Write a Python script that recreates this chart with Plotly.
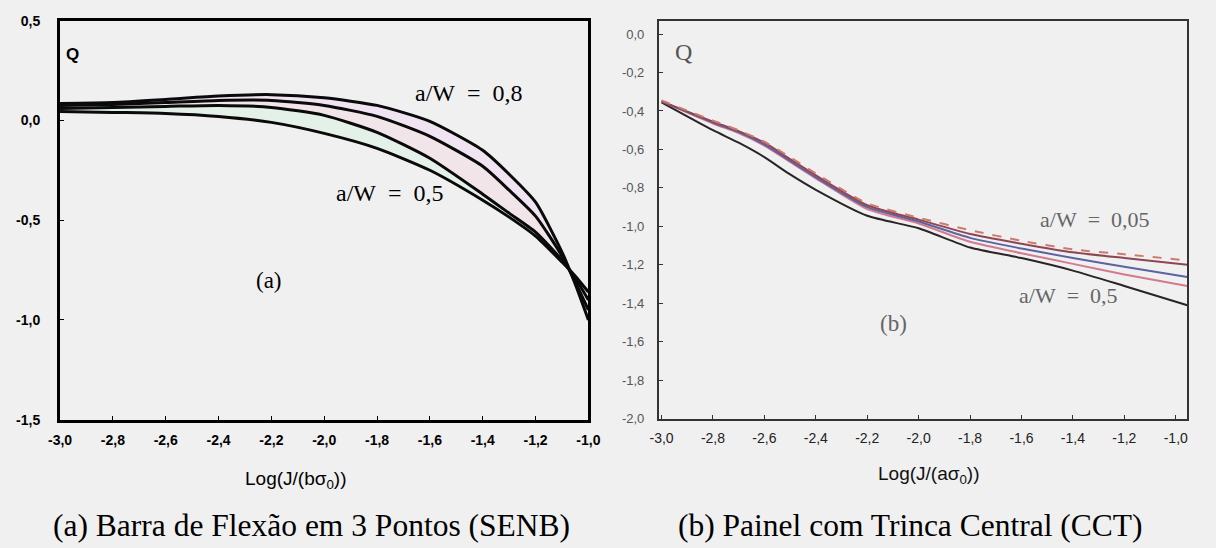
import plotly.graph_objects as go

W, H = 1216, 548

# ---------------- data: panel (a) SENB ----------------
x_a = [-3.0, -2.8, -2.6, -2.4, -2.2, -2.0, -1.8, -1.6, -1.4, -1.3, -1.2, -1.1, -1.05, -1.0]
q_a_08 = [0.085, 0.09, 0.105, 0.122, 0.129, 0.113, 0.075, -0.005, -0.15, -0.27, -0.41, -0.66, -0.82, -1.0]
q_a_07 = [0.075, 0.08, 0.09, 0.10, 0.10, 0.075, 0.02, -0.08, -0.23, -0.35, -0.48, -0.68, -0.81, -0.95]
q_a_06 = [0.06, 0.065, 0.07, 0.075, 0.065, 0.025, -0.06, -0.19, -0.37, -0.465, -0.56, -0.70, -0.79, -0.90]
q_a_05 = [0.045, 0.04, 0.035, 0.02, -0.01, -0.065, -0.14, -0.25, -0.40, -0.485, -0.58, -0.71, -0.78, -0.86]

# ---------------- data: panel (b) CCT ----------------
x_b = [-3.0, -2.8, -2.7, -2.6, -2.5, -2.4, -2.2, -2.0, -1.8, -1.6, -1.4, -1.2, -0.955]
q_b_005 = [-0.345, -0.45, -0.50, -0.56, -0.64, -0.725, -0.88, -0.955, -1.02, -1.075, -1.12, -1.145, -1.177]
q_b_01 = [-0.35, -0.455, -0.505, -0.565, -0.65, -0.735, -0.89, -0.965, -1.04, -1.09, -1.135, -1.165, -1.20]
q_b_02 = [-0.35, -0.46, -0.51, -0.575, -0.66, -0.745, -0.90, -0.975, -1.06, -1.115, -1.165, -1.21, -1.263]
q_b_03 = [-0.35, -0.465, -0.515, -0.58, -0.665, -0.75, -0.91, -0.985, -1.08, -1.14, -1.195, -1.25, -1.31]
q_b_05 = [-0.355, -0.50, -0.565, -0.64, -0.73, -0.81, -0.945, -1.01, -1.11, -1.165, -1.23, -1.31, -1.41]

# ---------------- tick labels ----------------
xa_vals = [-3.0, -2.8, -2.6, -2.4, -2.2, -2.0, -1.8, -1.6, -1.4, -1.2, -1.0]
xa_text = ["-3,0", "-2,8", "-2,6", "-2,4", "-2,2", "-2,0", "-1,8", "-1,6", "-1,4", "-1,2", "-1,0"]
ya_vals = [0.5, 0.0, -0.5, -1.0, -1.5]
ya_text = ["0,5", "0,0", "-0,5", "-1,0", "-1,5"]
xb_vals = xa_vals
xb_text = xa_text
yb_vals = [0.0, -0.2, -0.4, -0.6, -0.8, -1.0, -1.2, -1.4, -1.6, -1.8, -2.0]
yb_text = ["0,0", "-0,2", "-0,4", "-0,6", "-0,8", "-1,0", "-1,2", "-1,4", "-1,6", "-1,8", "-2,0"]

BG = "#f0f0f0"


def px(x):
    return x / W


def py(y):
    return 1 - y / H


fig = go.Figure()

# faint coloured bands between curves of panel (a)
spl = dict(shape="spline", smoothing=0.6)
fig.add_trace(go.Scatter(x=x_a, y=q_a_05, mode="lines", line=dict(color="rgba(0,0,0,0)", width=0, **spl),
                         showlegend=False, hoverinfo="skip", xaxis="x", yaxis="y"))
fig.add_trace(go.Scatter(x=x_a, y=q_a_06, mode="lines", line=dict(color="rgba(0,0,0,0)", width=0, **spl),
                         fill="tonexty", fillcolor="rgba(200,245,215,0.3)",
                         showlegend=False, hoverinfo="skip", xaxis="x", yaxis="y"))
fig.add_trace(go.Scatter(x=x_a, y=q_a_07, mode="lines", line=dict(color="rgba(0,0,0,0)", width=0, **spl),
                         fill="tonexty", fillcolor="rgba(250,205,220,0.3)",
                         showlegend=False, hoverinfo="skip", xaxis="x", yaxis="y"))
fig.add_trace(go.Scatter(x=x_a, y=q_a_08, mode="lines", line=dict(color="rgba(0,0,0,0)", width=0, **spl),
                         fill="tonexty", fillcolor="rgba(240,205,245,0.35)",
                         showlegend=False, hoverinfo="skip", xaxis="x", yaxis="y"))

for name, ys in [("a/W = 0,8", q_a_08), ("a/W = 0,7", q_a_07), ("a/W = 0,6", q_a_06), ("a/W = 0,5", q_a_05)]:
    fig.add_trace(go.Scatter(x=x_a, y=ys, mode="lines", name=name,
                             line=dict(color="#0a0a0a", width=3, **spl),
                             showlegend=False, xaxis="x", yaxis="y"))

# panel (b) curves
b_series = [
    ("a/W = 0,5", q_b_05, "#2a2426", "solid"),
    ("a/W = 0,3", q_b_03, "#d27a8e", "solid"),
    ("a/W = 0,2", q_b_02, "#5b63a2", "solid"),
    ("a/W = 0,1", q_b_01, "#8e4652", "solid"),
    ("a/W = 0,05", q_b_005, "#cc7a70", "dash"),
]
for name, ys, col, dash in b_series:
    fig.add_trace(go.Scatter(x=x_b, y=ys, mode="lines", name=name,
                             line=dict(color=col, width=2, dash=dash, **spl),
                             showlegend=False, xaxis="x2", yaxis="y2"))

axis_common = dict(showgrid=False, zeroline=False, showline=True, mirror=True,
                   ticks="inside", ticklen=4, tickmode="array")

fig.update_layout(
    width=W, height=H,
    margin=dict(l=0, r=0, t=0, b=0),
    paper_bgcolor=BG, plot_bgcolor=BG,
    showlegend=False,
    xaxis=dict(domain=[px(49), px(588)], anchor="y", range=[-3.0, -1.0],
               tickvals=xa_vals, ticktext=xa_text, linecolor="#000", linewidth=3,
               tickcolor="#000", ticklabelstandoff=6,
               tickfont=dict(family="Liberation Sans, Arial", size=14, color="#000", weight="bold"),
               **axis_common),
    yaxis=dict(domain=[py(424), py(13)], anchor="x", range=[-1.5, 0.5],
               tickvals=ya_vals, ticktext=ya_text, linecolor="#000", linewidth=3,
               tickcolor="#000", ticklabelstandoff=14,
               tickfont=dict(family="Liberation Sans, Arial", size=14, color="#000", weight="bold"),
               **axis_common),
    xaxis2=dict(domain=[px(660), px(1199)], anchor="y2", range=[-3.01, -0.955],
                tickvals=xb_vals, ticktext=xb_text, linecolor="#333", linewidth=2,
                tickcolor="#333", ticklabelstandoff=6,
                tickfont=dict(family="Liberation Sans, Arial", size=14, color="#222"),
                **axis_common),
    yaxis2=dict(domain=[py(423), py(13)], anchor="x2", range=[-2.0, 0.07],
                tickvals=yb_vals, ticktext=yb_text, linecolor="#333", linewidth=2,
                tickcolor="#333", ticklabelstandoff=10,
                tickfont=dict(family="Liberation Sans, Arial", size=13, color="#555"),
                **axis_common),
)

serif = "Liberation Serif, Times New Roman, serif"
sans = "Liberation Sans, Arial, sans-serif"
NB = "\u00a0"
EQ = NB + NB + "=" + NB + NB

annots = [
    # panel (a)
    dict(text="Q", x=px(62), y=py(48), font=dict(family=sans, size=17, color="#000", weight="bold")),
    dict(text="a/W" + EQ + "0,8", x=px(466), y=py(88),
         font=dict(family=serif, size=24, color="#000")),
    dict(text="a/W" + EQ + "0,5", x=px(386), y=py(191),
         font=dict(family=serif, size=24, color="#000")),
    dict(text="(a)", x=px(262), y=py(281), font=dict(family=serif, size=23, color="#000")),
    dict(text="Log(J/(bσ<sub>0</sub>))", x=px(290), y=py(486), font=dict(family=sans, size=19, color="#000")),
    dict(text="(a) Barra de Flexão em 3 Pontos (SENB)", x=px(306), y=py(533),
         font=dict(family=serif, size=31.5, color="#000")),
    # panel (b)
    dict(text="Q", x=px(685), y=py(45), font=dict(family=serif, size=24, color="#555")),
    dict(text="a/W" + EQ + "0,05", x=px(1105), y=py(218),
         font=dict(family=serif, size=22, color="#666")),
    dict(text="a/W" + EQ + "0,5", x=px(1078), y=py(296),
         font=dict(family=serif, size=22, color="#666")),
    dict(text="(b)", x=px(899), y=py(325), font=dict(family=serif, size=23, color="#666")),
    dict(text="Log(J/(aσ<sub>0</sub>))", x=px(935), y=py(481), font=dict(family=sans, size=19, color="#111")),
    dict(text="(b) Painel com Trinca Central (CCT)", x=px(917), y=py(533),
         font=dict(family=serif, size=31.5, color="#000")),
]
for a in annots:
    a.update(xref="paper", yref="paper", showarrow=False, xanchor="center", yanchor="middle")
fig.update_layout(annotations=annots)

fig.write_html("out.html")
